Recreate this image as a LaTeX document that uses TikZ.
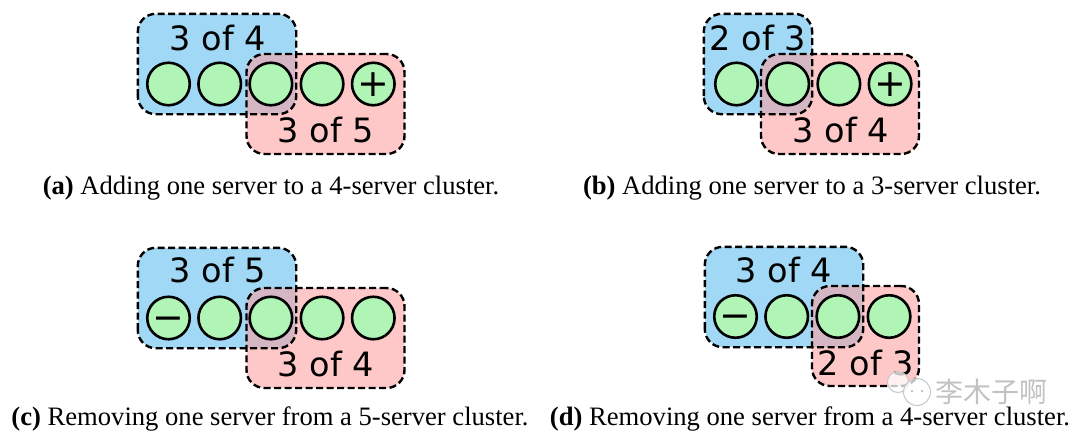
\documentclass[tikz,border=0pt]{standalone}
\usepackage{fontspec}
\setmainfont{Liberation Serif}
\newfontfamily\dejavu{DejaVu Sans}
\newfontfamily\cjk{Noto Sans CJK SC}
\usetikzlibrary{positioning}
\definecolor{quorumblue}{RGB}{160,216,245}
\definecolor{quorumred}{RGB}{255,157,157}
\definecolor{servergreen}{RGB}{176,245,181}
\newcommand{\sign}[1]{\smash{\raisebox{-12pt}{#1}}}
\tikzset{
  bluebox/.style={fill=quorumblue,minimum width=158pt,minimum height=100pt,inner sep=0pt,rounded corners=18pt},
  redbox/.style={draw,dashline,fill=quorumred,fill opacity=.56,inner sep=0pt,rounded corners=18pt,minimum height=100pt},
  dashline/.style={line width=2.4pt,dash pattern=on 7pt off 3.5pt},
  server/.style={circle,draw,line width=2.6pt,fill=servergreen,minimum size=42.5pt,inner sep=0pt,font=\dejavu\fontsize{38}{38}\selectfont},
  quorum/.style={inner sep=0pt,font=\dejavu\fontsize{33.5}{33.5}\selectfont},
  subcaption/.style={inner sep=0pt,font=\fontsize{26.6}{30}\selectfont},
  bubble/.style={circle,draw=black!22,line width=1pt,fill=white,fill opacity=.75,inner sep=0pt},
}
\begin{document}
\begin{tikzpicture}[x=1pt,y=-1pt,node distance=51.2pt,on grid]
   \useasboundingbox (0,0) rectangle (1080,440);
   % top left
   \node[bluebox] (qa) at (217,64) {};
   \node[redbox,minimum width=158pt] (ra) at (325.5,104) {};
   \draw[dashline,rounded corners=18pt] (qa.south west) rectangle (qa.north east);
   \node[server] (a1) at (168.5,84) {};
   \node[server] (a2) [right=of a1] {};
   \node[server] (a3) [right=of a2] {};
   \node[server] (a4) [right=of a3] {};
   \node[server] (a5) [right=of a4] {\sign{+}};
   \node[quorum] (ta) at (218,38) {3 of 4};
   \node[quorum] (ua) at (326,130) {3 of 5};
   \node[subcaption] (ca) at (271,188) {\textbf{(a)} Adding one server to a 4-server cluster.};
   % top right
   \node[bluebox,minimum width=108pt] (qb) at (758,64) {};
   \node[redbox,minimum width=158pt] (rb) at (840,104) {};
   \draw[dashline,rounded corners=18pt] (qb.south west) rectangle (qb.north east);
   \node[server] (b1) at (736.5,84) {};
   \node[server] (b2) [right=of b1] {};
   \node[server] (b3) [right=of b2] {};
   \node[server] (b4) [right=of b3] {\sign{+}};
   \node[quorum] (tb) at (758,38) {2 of 3};
   \node[quorum] (ub) at (841,130) {3 of 4};
   \node[subcaption] (cb) at (812,188) {\textbf{(b)} Adding one server to a 3-server cluster.};
   % bottom left
   \node[bluebox] (qc) at (217,298) {};
   \node[redbox,minimum width=158pt] (rc) at (325.5,338) {};
   \draw[dashline,rounded corners=18pt] (qc.south west) rectangle (qc.north east);
   \node[server] (c1) at (168.5,318) {\sign{−}};
   \node[server] (c2) [right=of c1] {};
   \node[server] (c3) [right=of c2] {};
   \node[server] (c4) [right=of c3] {};
   \node[server] (c5) [right=of c4] {};
   \node[quorum] (tc) at (218,270) {3 of 5};
   \node[quorum] (uc) at (326,364) {3 of 4};
   \node[subcaption] (cc) at (270,419) {\textbf{(c)} Removing one server from a 5-server cluster.};
   % bottom right
   \node[bluebox] (qd) at (784,297) {};
   \node[redbox,minimum width=107pt] (rd) at (865.5,336) {};
   \draw[dashline,rounded corners=18pt] (qd.south west) rectangle (qd.north east);
   \node[server] (d1) at (735.5,316.5) {\sign{−}};
   \node[server] (d2) [right=of d1] {};
   \node[server] (d3) [right=of d2] {};
   \node[server] (d4) [right=of d3] {};
   \node[quorum] (td) at (784,270) {3 of 4};
   \node[quorum] (ud) at (866,363) {2 of 3};
   \node[subcaption] (cd) at (810,419) {\textbf{(d)} Removing one server from a 4-server cluster.};
   % mark
   \node[bubble,minimum size=21pt] (wa) at (898,382) {};
   \node[bubble,minimum size=27pt] (wb) at (917,392) {};
   \fill[black!30] (wb) ++(-5,-1) circle (1.2) ++(10,0) circle (1.2);
   \node[inner sep=0pt,text=black!24,font=\cjk\fontsize{28}{28}\selectfont] (wt) [right=74pt of wb.center,anchor=center] {李木子啊};
\end{tikzpicture}
\end{document}
